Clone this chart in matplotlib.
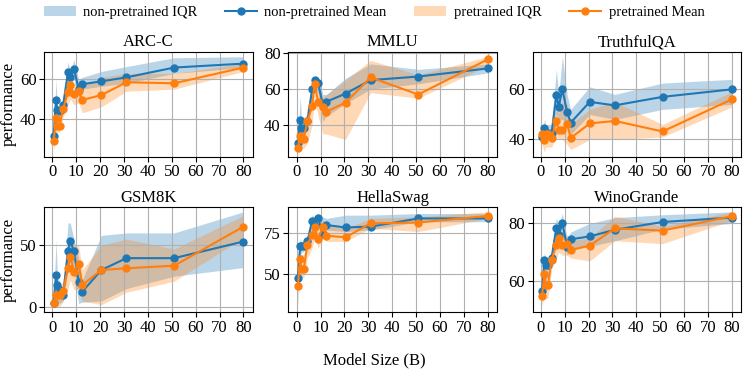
import numpy as np
import matplotlib
matplotlib.use("Agg")
import matplotlib.pyplot as plt
from matplotlib.ticker import MaxNLocator

plt.rcParams['font.family'] = ['Liberation Serif', 'DejaVu Serif']
plt.rcParams['font.size'] = 11.5

# model sizes (B)
sizes = [0.5, 1.5, 2, 3, 4.5, 6.5, 7.5, 9, 11, 12.5, 20.5, 31, 51, 80]

tasks = ["ARC-C", "MMLU", "TruthfulQA", "GSM8K", "HellaSwag", "WinoGrande"]

# non-pretrained / pretrained: mean, lower quartile, upper quartile
arc_np_mean = [31, 49.5, 44.5, 44, 47, 63.5, 61, 65.5, 55, 57.5, 59, 61, 66, 68]
arc_np_lo = [29, 41, 42, 42, 45, 58, 58, 60, 50, 55, 56.5, 58, 63, 66]
arc_np_hi = [33, 60, 47, 46, 49, 69, 64, 70, 60, 61, 64, 66.5, 71, 71.5]
arc_p_mean = [28.5, 40.5, 36.5, 36.5, 45, 53.5, 57, 52.5, 54, 49.5, 52, 58.5, 58, 66]
arc_p_lo = [23, 33, 33, 33, 41, 47, 50, 47, 48, 43, 46, 54, 55, 64]
arc_p_hi = [32, 48, 40, 41, 48, 60, 62, 58, 58, 56, 61, 63, 63, 68]

mmlu_np_mean = [30, 43, 38.5, 38.5, 42, 60, 65, 63.5, 51, 53, 57.5, 65, 67, 71.5]
mmlu_np_lo = [27, 30, 33, 34, 38, 57, 60, 58, 42, 45, 52, 60, 63, 69]
mmlu_np_hi = [33, 56, 44, 43, 46, 63, 67, 66, 57, 57, 66, 74, 71, 74]
mmlu_p_mean = [27.5, 34, 32.5, 32.5, 42, 50.5, 63, 53, 50, 47.5, 52.5, 66.5, 57, 76.5]
mmlu_p_lo = [25, 27, 27, 27, 30, 40, 56, 45, 35, 35, 32, 58, 55, 73]
mmlu_p_hi = [30, 40, 37, 37, 50, 58, 65, 60, 55, 57, 65, 76, 68, 78]

tqa_np_mean = [41, 44.5, 42, 42.5, 42.5, 57.7, 53, 60, 51, 46.7, 55, 53.6, 57, 60]
tqa_np_lo = [39, 40, 40, 40, 40, 50, 48, 48, 46, 42, 50, 48, 52, 54]
tqa_np_hi = [43, 48, 46, 46, 46, 68, 58, 73, 58, 52, 61, 58, 62.5, 64]
tqa_p_mean = [42, 39.6, 42, 42, 40.4, 47.4, 43.8, 43.8, 46.2, 40.6, 46.4, 47.4, 43.2, 56]
tqa_p_lo = [38, 35, 37, 37, 37, 41, 40, 40, 38, 36, 40, 40, 41, 53]
tqa_p_hi = [44, 43, 44, 44, 44, 52, 50, 55, 54, 46, 52, 55, 46, 59]

gsm_np_mean = [3.5, 26, 18, 14, 10, 45, 53.5, 45, 20.7, 12.5, 30, 39.6, 39.6, 53]
gsm_np_lo = [1, 5, 5, 3, 5, 30, 40, 30, 3, 4, 5, 15, 25, 32]
gsm_np_hi = [6, 54, 30, 20, 15, 68, 68, 55, 40, 22, 58, 60, 60, 77]
gsm_p_mean = [3.2, 10, 10, 10, 13.3, 31.4, 40.4, 28.7, 35, 17.8, 30, 31.4, 33.5, 65]
gsm_p_lo = [0, 2, 0, 0, 5, 15, 22, 14, 15, 5, 2, 12, 21, 56]
gsm_p_hi = [5, 18, 15, 14, 22, 45, 55, 48, 50, 30, 50, 55, 47, 74]

hs_np_mean = [47.5, 67.5, 67.5, 67.5, 70, 82.5, 79.5, 84, 74.5, 80, 78.5, 79, 84, 84]
hs_np_lo = [36, 63, 63, 64, 67, 80, 76, 80, 72, 77, 76, 77, 82, 82]
hs_np_hi = [60, 72, 70, 70, 74, 86, 85, 87, 85, 84, 86, 86, 87, 87]
hs_p_mean = [43, 59.5, 53.5, 53.5, 68, 74, 78.5, 71.5, 79, 73.5, 72.5, 81, 81.5, 85.5]
hs_p_lo = [30, 50, 48, 48, 60, 66, 72, 66, 72, 70, 70, 78, 76, 84]
hs_p_hi = [55, 65, 62, 62, 72, 80, 82, 80, 83, 80, 78, 84, 85, 88]

wg_np_mean = [56.5, 67.5, 65.5, 65.5, 68, 78.5, 76, 80, 72, 74.5, 75.5, 77.8, 80.5, 82]
wg_np_lo = [52, 62, 60, 62, 66, 74, 72, 76, 69, 71, 72, 74, 78, 80]
wg_np_hi = [60, 70, 68, 68, 70, 82, 79, 83.5, 75, 77, 80, 82, 83, 84]
wg_p_mean = [55, 62.5, 58.5, 58.5, 67.5, 72.5, 75, 72.5, 73, 70.8, 72.3, 78.3, 77.5, 82.5]
wg_p_lo = [51, 56, 54, 54, 64, 68, 70, 69, 69, 68, 67, 74, 73, 81]
wg_p_hi = [57, 66, 64, 62, 70, 76, 78, 76, 76, 74, 75, 82.5, 79, 84]

np_mean = [arc_np_mean, mmlu_np_mean, tqa_np_mean, gsm_np_mean, hs_np_mean, wg_np_mean]
np_lo = [arc_np_lo, mmlu_np_lo, tqa_np_lo, gsm_np_lo, hs_np_lo, wg_np_lo]
np_hi = [arc_np_hi, mmlu_np_hi, tqa_np_hi, gsm_np_hi, hs_np_hi, wg_np_hi]
p_mean = [arc_p_mean, mmlu_p_mean, tqa_p_mean, gsm_p_mean, hs_p_mean, wg_p_mean]
p_lo = [arc_p_lo, mmlu_p_lo, tqa_p_lo, gsm_p_lo, hs_p_lo, wg_p_lo]
p_hi = [arc_p_hi, mmlu_p_hi, tqa_p_hi, gsm_p_hi, hs_p_hi, wg_p_hi]

blue = '#1f77b4'
orange = '#ff7f0e'

fig, axes = plt.subplots(2, 3, figsize=(7.48, 3.74), dpi=100)
fig.subplots_adjust(left=0.059, right=0.991, top=0.861, bottom=0.166,
                    wspace=0.17, hspace=0.48)

for i, ax in enumerate(axes.flat):
    ax.fill_between(sizes, np_lo[i], np_hi[i], color=blue, alpha=0.3,
                    linewidth=0, label='non-pretrained IQR')
    ax.plot(sizes, np_mean[i], '-o', color=blue, lw=1.5, ms=5,
            label='non-pretrained Mean')
    ax.fill_between(sizes, p_lo[i], p_hi[i], color=orange, alpha=0.3,
                    linewidth=0, label='pretrained IQR')
    ax.plot(sizes, p_mean[i], '-o', color=orange, lw=1.5, ms=5,
            label='pretrained Mean')
    ax.set_title(tasks[i], fontsize=12, pad=4)
    ax.set_xticks(np.arange(0, 81, 10))
    ax.yaxis.set_major_locator(MaxNLocator(3, steps=[1, 2, 2.5, 5, 10]))
    ax.grid(True, color='#b0b0b0', lw=0.8)
    ax.tick_params(labelsize=12, pad=2)
    if i % 3 == 0:
        ax.set_ylabel('performance', fontsize=12, labelpad=2)

handles, labels = axes[0, 0].get_legend_handles_labels()
fig.legend(handles, labels, loc='upper center', bbox_to_anchor=(0.5, 1.02),
           ncol=4, frameon=False, fontsize=10.5, columnspacing=1.9,
           handlelength=2.2, handletextpad=0.5)
fig.text(0.5, 0.025, 'Model Size (B)', ha='center', fontsize=12)

fig.savefig('out.png', dpi=100)
